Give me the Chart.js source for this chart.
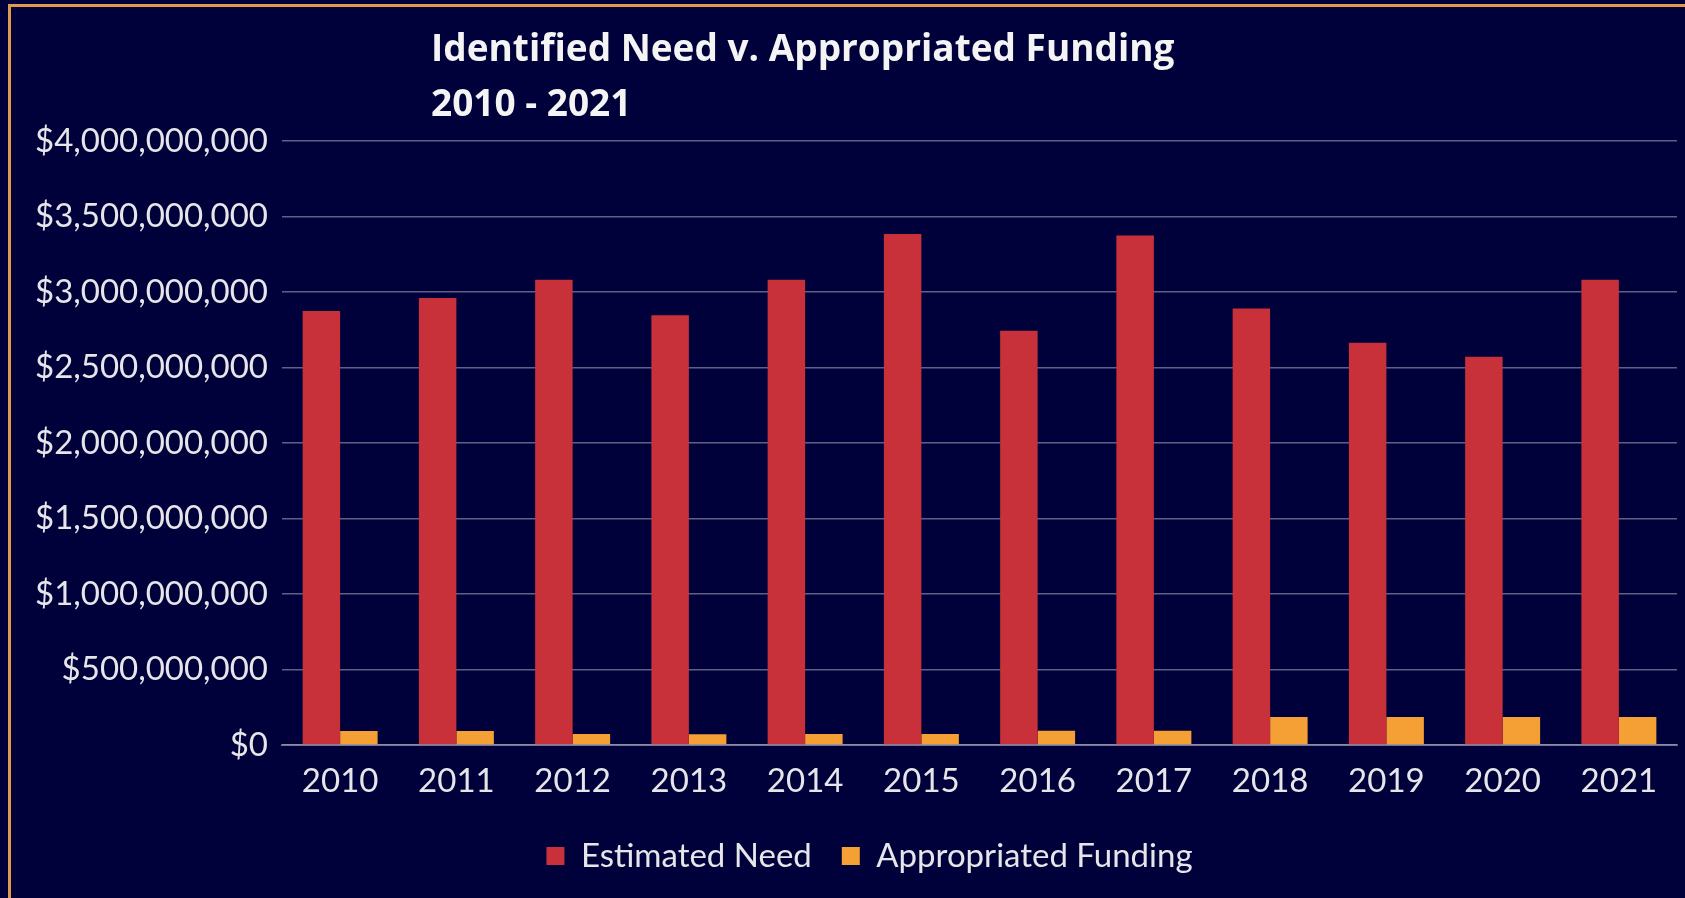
<!DOCTYPE html>
<html>
<head>
<meta charset="utf-8">
<script src="https://cdn.jsdelivr.net/npm/chart.js@4.4.1/dist/chart.umd.min.js"></script>
<style>
  html, body { margin: 0; padding: 0; background: #00003a; overflow: hidden; }
  #wrap { position: relative; width: 1685px; height: 898px; }
  #frame {
    position: absolute; left: 8px; top: 4px; width: 1700px; height: 920px;
    border-top: 3px solid #e09a4e; border-left: 3px solid #e09a4e;
    pointer-events: none;
  }
  #canvas { position: absolute; left: 0; top: 0; }
</style>
</head>
<body>
<div id="wrap">
  <canvas id="canvas" width="1685" height="898"></canvas>
  <div id="frame"></div>
</div>
<script>
{
  // x-axis labels
  const years = ['2010', '2011', '2012', '2013', '2014', '2015', '2016', '2017', '2018', '2019', '2020', '2021'];
  // bar heights, in dollars
  const estimatedNeed = [2875000000, 2960000000, 3081000000, 2846000000, 3081000000, 3384000000,
                         2743000000, 3375000000, 2890000000, 2664000000, 2572000000, 3081000000];
  const appropriatedFunding = [92000000, 92000000, 73000000, 71000000, 73000000, 73000000,
                               94000000, 95000000, 185000000, 185000000, 185000000, 185000000];
  // y-axis range
  const yMin = 0;
  const yMax = 4000000000;
  const yStep = 500000000;
  const titleLines = ['Identified Need v. Appropriated Funding', '2010 - 2021'];

  const textColor = '#e6e6ea';
  const gridColor = 'rgba(175, 175, 195, 0.55)';
  const tickFont = { family: 'Lato', size: 33 };

  // two-line title, left aligned like the original
  const leftTitle = {
    id: 'leftTitle',
    afterDraw(chart) {
      const c = chart.ctx;
      c.save();
      c.fillStyle = '#f4f4f4';
      c.font = 'bold 37px "Open Sans"';
      c.textBaseline = 'alphabetic';
      c.textAlign = 'left';
      c.fillText(titleLines[0], 431, 61);
      c.fillText(titleLines[1], 431, 116);
      c.restore();
    }
  };

  // legend sits a little right of centre in the original
  const nudgeLegend = {
    id: 'nudgeLegend',
    afterLayout(chart) {
      chart.legend.left += 14;
      chart.legend.right += 14;
    }
  };

  const ctx = document.getElementById('canvas');
  const fundingChart = new Chart(ctx, {
    type: 'bar',
    data: {
      labels: years,
      datasets: [
        {
          label: 'Estimated Need',
          data: estimatedNeed,
          backgroundColor: '#c8303a'
        },
        {
          label: 'Appropriated Funding',
          data: appropriatedFunding,
          backgroundColor: '#f5a034'
        }
      ]
    },
    options: {
      responsive: false,
      animation: false,
      datasets: {
        bar: { categoryPercentage: 0.645, barPercentage: 1.0 }
      },
      layout: {
        padding: { left: 34, right: 8, top: 141, bottom: 15.5 }
      },
      scales: {
        x: {
          afterFit(scale) { scale.height = 64.5; },
          grid: { display: false, drawTicks: false },
          border: { display: true, color: gridColor, width: 2 },
          ticks: { color: textColor, font: tickFont, padding: 17 }
        },
        y: {
          min: yMin,
          max: yMax,
          z: 1,
          afterFit(scale) { scale.width = 248; },
          grid: { color: gridColor, lineWidth: 1.5, drawTicks: false },
          border: { display: false },
          ticks: {
            stepSize: yStep,
            color: textColor,
            padding: 14,
            font: tickFont,
            callback: v => '$' + v.toLocaleString('en-US')
          }
        }
      },
      plugins: {
        title: { display: false },
        tooltip: { enabled: false },
        legend: {
          position: 'bottom',
          labels: {
            color: textColor,
            font: tickFont,
            boxWidth: 18,
            boxHeight: 18,
            padding: 30
          }
        }
      }
    },
    plugins: [leftTitle, nudgeLegend]
  });
}
</script>
</body>
</html>
